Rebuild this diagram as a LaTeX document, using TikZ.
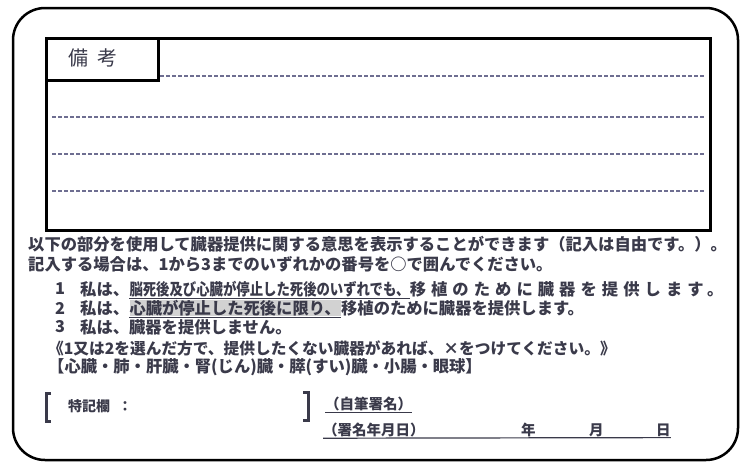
\documentclass[tikz,border=0pt]{standalone}
\usepackage{fontspec}
\usepackage{tikz}
\usetikzlibrary{positioning}
\newfontfamily\jp{Noto Sans CJK JP}
\newfontfamily\jpwide[LetterSpace=31]{Noto Sans CJK JP}
\definecolor{ink}{RGB}{58,58,74}
\definecolor{dashcol}{RGB}{110,110,145}

\begin{document}
\begin{tikzpicture}[x=1pt,y=-1pt,
  txt/.style={anchor=west,inner sep=0pt,text=ink,font=\jp\bfseries\fontsize{16.3}{18}\selectfont},
  smalltxt/.style={anchor=west,inner sep=0pt,text=ink,font=\jp\bfseries\fontsize{14.5}{16}\selectfont},
  cardline/.style={line width=2.5pt},
  ruled/.style={dashcol,line width=1.1pt,dash pattern=on 4pt off 2pt},
  uline/.style={ink,line width=1.2pt},
]
\useasboundingbox (0,0) rectangle (741,463);
\draw[cardline,rounded corners=32pt] (13,8) rectangle (738,460);

\node (remarks) at (45,37) [cardline,draw,anchor=north west,minimum width=664pt,minimum height=192pt] {};
\node (label) at (45,37) [cardline,draw,anchor=north west,minimum width=112pt,minimum height=42pt] {};
\node (bikou) at (68,58) [anchor=west,inner sep=0pt,text=ink,font=\jp\fontsize{20}{22}\selectfont] {備\hspace{9pt}考};
\draw[ruled] (160,76) -- (705,76);
\foreach \y in {117,154,191}
  \draw[ruled] (52,\y) -- (705,\y);

\node (l1) at (28,244) [txt] {以下の部分を使用して臓器提供に関する意思を表示することができます（記入は自由です。）。};
\node (l2) at (28,264) [txt] {記入する場合は、1から3までのいずれかの番号を○で囲んでください。};

\node (n1) at (55,289) [txt] {1};
\node (i1a) at (80,289) [txt] {私は、};
\node (i1b) [txt,right=0pt of i1a] {\scalebox{0.82}[1]{脳死後及び心臓が停止した死後のいずれでも、}};
\node (i1c) [txt,right=0pt of i1b] {\jpwide 移植のために臓器を提供します。};
\draw[uline] ([yshift=-1pt]i1b.south west) -- ([yshift=-1pt]i1b.south east);

\node (n2) at (55,308) [txt] {2};
\node (i2a) at (80,308) [txt] {私は、};
\node (i2b) [txt,right=0pt of i2a,fill=gray!35] {心臓が停止した死後に限り、};
\node (i2c) [txt,right=0pt of i2b] {移植のために臓器を提供します。};
\draw[uline] ([yshift=-1pt]i2b.south west) -- ([yshift=-1pt]i2b.south east);

\node (n3) at (55,327) [txt] {3};
\node (i3) at (80,327) [txt] {私は、臓器を提供しません。};

\node (note) at (48,348) [txt,font=\jp\bfseries\fontsize{15.7}{18}\selectfont] {《1又は2を選んだ方で、提供したくない臓器があれば、×をつけてください。》};
\node (organs) at (48,367) [txt] {【心臓・肺・肝臓・腎(じん)臓・膵(すい)臓・小腸・眼球】};

\draw[ink,line width=3pt] (51,393) -- (46,393) -- (46,421) -- (51,421);
\draw[ink,line width=3pt] (303,392) -- (308,392) -- (308,420) -- (303,420);
\node (tokki) at (68,406) [smalltxt,font=\jp\bfseries\fontsize{14}{16}\selectfont] {特記欄\hspace{8pt}：};
\node (jihitsu) at (325,404) [smalltxt] {（自筆署名）};
\node (shomei) at (323,430) [smalltxt] {（署名年月日）};
\node (nen) at (521,430) [smalltxt] {年};
\node (tsuki) at (589,430) [smalltxt] {月};
\node (hi) at (656,430) [smalltxt] {日};
\draw[uline] ([yshift=-1pt]jihitsu.south west) -- ([yshift=-1pt]jihitsu.south east);
\draw[uline] ([yshift=-1pt]shomei.south west) -- ([yshift=-1pt]hi.south east);

\end{tikzpicture}
\end{document}
